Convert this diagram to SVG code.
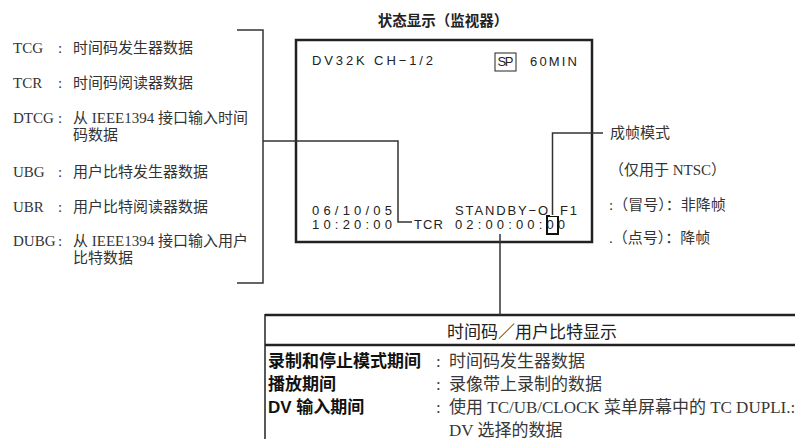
<svg xmlns="http://www.w3.org/2000/svg" width="795" height="439" viewBox="0 0 795 439">
<style>
.bg{fill:#fff}
.t{font-family:"Liberation Serif","Noto Sans CJK SC",serif;font-size:15px;fill:#333}
.c{font-family:"Liberation Serif","Noto Sans CJK SC",serif;font-size:15px;fill:#333}
.m{font-family:"Liberation Sans","Noto Sans CJK SC",sans-serif;font-size:13px;fill:#222}
.title{font-family:"Noto Sans CJK SC",sans-serif;font-size:14.5px;font-weight:bold;fill:#222}
.hd{font-family:"Noto Sans CJK SC",sans-serif;font-size:17px;fill:#222}
.lb{font-family:"Liberation Sans","Noto Sans CJK SC",sans-serif;font-size:17px;font-weight:bold;fill:#111}
.vl{font-family:"Liberation Serif","Noto Sans CJK SC",serif;font-size:17px;fill:#383838}
.ln{fill:none;stroke:#333;stroke-width:1.5}
.thick{fill:none;stroke:#222;stroke-width:2.5}
</style>
<rect class="bg" x="0" y="0" width="795" height="439"/>

<g id="title">
<text class="title" x="443" y="26" text-anchor="middle">状态显示（监视器）</text>
</g>

<g id="legend">
<text class="t" x="13" y="53">TCG</text><text class="c" x="58" y="53">:</text><text class="t" x="73" y="53">时间码发生器数据</text>
<text class="t" x="13" y="88">TCR</text><text class="c" x="58" y="88">:</text><text class="t" x="73" y="88">时间码阅读器数据</text>
<text class="t" x="13" y="123">DTCG</text><text class="c" x="58" y="123">:</text><text class="t" x="73" y="123">从 IEEE1394 接口输入时间</text>
<text class="t" x="73" y="140">码数据</text>
<text class="t" x="13" y="177">UBG</text><text class="c" x="58" y="177">:</text><text class="t" x="73" y="177">用户比特发生器数据</text>
<text class="t" x="13" y="212">UBR</text><text class="c" x="58" y="212">:</text><text class="t" x="73" y="212">用户比特阅读器数据</text>
<text class="t" x="13" y="246">DUBG</text><text class="c" x="58" y="246">:</text><text class="t" x="73" y="246">从 IEEE1394 接口输入用户</text>
<text class="t" x="73" y="263">比特数据</text>
</g>

<g id="monitor">
<rect class="thick" x="296" y="40" width="296" height="202"/>
<text class="m" x="312" y="65" textLength="121" lengthAdjust="spacing">DV32K CH−1/2</text>
<rect x="495" y="53" width="21" height="18" fill="none" stroke="#222" stroke-width="1"/>
<text class="m" x="497.5" y="66" textLength="16" lengthAdjust="spacing">SP</text>
<text class="m" x="530" y="66" textLength="47" lengthAdjust="spacing">60MIN</text>
<text class="m" x="312" y="215" textLength="80" lengthAdjust="spacing">06/10/05</text>
<text class="m" x="312" y="229" textLength="80" lengthAdjust="spacing">10:20:00</text>
<text class="m" x="455" y="215" textLength="122" lengthAdjust="spacing">STANDBY−OFF1</text>
<text class="m" x="414" y="229" textLength="29" lengthAdjust="spacing">TCR</text>
<text class="m" x="455" y="229" textLength="110" lengthAdjust="spacing">02:00:00:00</text>
<rect x="547" y="216" width="11" height="18" fill="none" stroke="#111" stroke-width="2"/>
</g>

<g id="frame-note">
<text class="t" x="610" y="138">成帧模式</text>
<text class="t" x="609" y="175">（仅用于 NTSC）</text>
<text class="t" x="609" y="210">:（冒号）：非降帧</text>
<text class="t" x="609" y="243">.（点号）：降帧</text>
</g>

<g id="table">
<line x1="265" y1="315" x2="800" y2="315" stroke="#222" stroke-width="2.5"/>
<line x1="265" y1="345" x2="800" y2="345" stroke="#222" stroke-width="2.5"/>
<line x1="265" y1="314" x2="265" y2="440" stroke="#222" stroke-width="1.5"/>
<text class="hd" x="532" y="338" text-anchor="middle">时间码／用户比特显示</text>
<text class="lb" x="268" y="367">录制和停止模式期间</text>
<text class="lb" x="268" y="390">播放期间</text>
<text class="lb" x="268" y="413">DV 输入期间</text>
<text class="vl" x="436" y="367">:</text>
<text class="vl" x="436" y="390">:</text>
<text class="vl" x="436" y="413">:</text>
<text class="vl" x="449" y="367">时间码发生器数据</text>
<text class="vl" x="449" y="390">录像带上录制的数据</text>
<text class="vl" x="449" y="413">使用 TC/UB/CLOCK 菜单屏幕中的 TC DUPLI.:</text>
<text class="vl" x="449" y="436">DV 选择的数据</text>
</g>

<g id="connectors">
<polyline class="ln" points="237,30 263,30 263,283 237,283"/>
<polyline class="ln" points="263,141 398,141 398,222 412,222"/>
<rect x="550" y="203" width="9" height="13" fill="#fff"/>
<polyline class="ln" points="552.5,215 552.5,133 603,133"/>
<line class="ln" x1="500" y1="234" x2="500" y2="315"/>
</g>
</svg>
